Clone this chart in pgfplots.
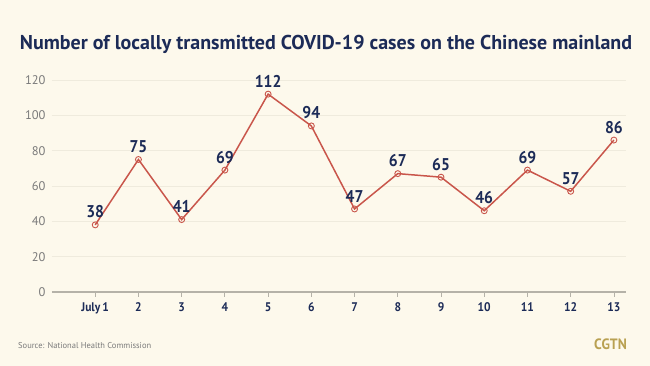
\documentclass[border=0pt]{standalone}
\usepackage{pgfplots}
\pgfplotsset{compat=1.18}
\usepackage{fontspec}
\setmainfont{PT Sans}
\newfontfamily\titlefont[FakeStretch=1.0]{PT Sans Bold}
\newfontfamily\labfont[FakeStretch=0.92]{PT Sans Bold}
\definecolor{bg}{HTML}{FDF9EC}
\definecolor{navy}{HTML}{1C2B57}
\definecolor{linered}{HTML}{C9564B}
\definecolor{gridc}{HTML}{EFEBDD}
\definecolor{axc}{HTML}{B5B2A8}
\definecolor{tickgray}{HTML}{7A7A7A}
\definecolor{gold}{HTML}{B9A152}
\begin{document}
\begin{tikzpicture}
\fill[bg] (0bp,0bp) rectangle (650bp,366bp);
\node[anchor=center,text=navy,inner sep=0pt] at (326bp,322bp) {\titlefont\fontsize{20bp}{24bp}\selectfont Number of locally transmitted COVID-19 cases on the Chinese mainland};
\begin{axis}[
  at={(52bp,74bp)}, anchor=origin,
  scale only axis, width=574bp, height=212bp,
  xmin=0, xmax=13.28, ymin=0, ymax=120,
  axis x line*=bottom, axis y line*=left,
  x axis line style={axc, line width=1.4pt, -},
  y axis line style={draw=none},
  xtick={1,...,13},
  xticklabels={July\,1,2,3,4,5,6,7,8,9,10,11,12,13},
  xticklabel style={text=navy, font=\labfont\fontsize{12.5bp}{14bp}\selectfont, yshift=-2bp},
  tick align=outside, major tick length=5bp,
  x tick style={axc, line width=0.8pt},
  y tick style={draw=none},
  ytick={0,20,...,120},
  yticklabel style={text=tickgray, font=\fontsize{12.5bp}{14bp}\selectfont, xshift=2bp},
  ymajorgrids, grid style={gridc, line width=0.8pt},
  clip=false,
  /pgf/number format/assume math mode=true,
]
\addplot[linered, line width=1.5pt, mark=o, mark size=3pt,
  mark options={fill=white, line width=0.9pt},
  nodes near coords,
  every node near coord/.append style={text=navy, font=\labfont\fontsize{17bp}{19bp}\selectfont, anchor=south, yshift=3bp},
] coordinates {
(1,38) (2,75) (3,41) (4,69) (5,112) (6,94) (7,47) (8,67) (9,65) (10,46) (11,69) (12,57) (13,86)};
\end{axis}
\node[anchor=west, text=tickgray, inner sep=0pt, font=\fontsize{8.5bp}{10bp}\selectfont] at (18bp,20bp) {Source: National Health Commission};
\node[anchor=east, text=gold, inner sep=0pt, font=\labfont\fontsize{15bp}{17bp}\selectfont] at (627bp,22bp) {CGTN};
\end{tikzpicture}
\end{document}
